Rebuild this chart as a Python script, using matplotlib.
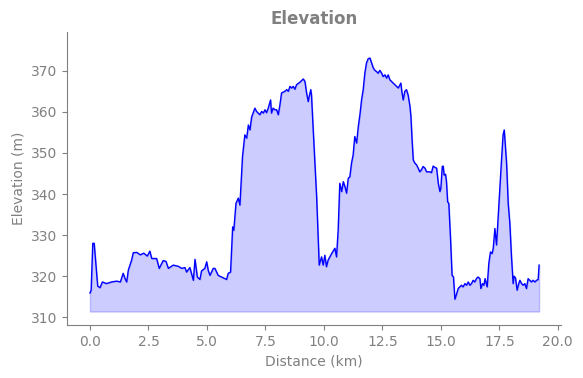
import numpy as np
import matplotlib
matplotlib.use("Agg")
import matplotlib.pyplot as plt

# distance along the track (km) and elevation (m)
distance = [0.00, 0.05, 0.12, 0.18, 0.33, 0.43, 0.53, 0.70, 0.93, 1.14, 1.30, 1.42,
            1.50, 1.57, 1.64, 1.78, 1.85, 2.00, 2.15, 2.30, 2.45, 2.56, 2.64, 2.85,
            2.96, 3.13, 3.25, 3.35, 3.56, 3.78, 3.92, 4.06, 4.13, 4.27, 4.42, 4.49,
            4.59, 4.70, 4.77, 4.91, 4.99, 5.06, 5.13, 5.27, 5.34, 5.48, 5.63, 5.77,
            5.84, 5.91, 6.01, 6.10, 6.15, 6.24, 6.34, 6.41, 6.52, 6.62, 6.70, 6.77,
            6.84, 6.91, 6.98, 7.05, 7.12, 7.19, 7.26, 7.34, 7.41, 7.48, 7.55, 7.62,
            7.72, 7.76, 7.83, 7.91, 7.98, 8.05, 8.12, 8.19, 8.33, 8.41, 8.48, 8.55,
            8.62, 8.69, 8.76, 8.83, 8.97, 9.12, 9.19, 9.26, 9.33, 9.37, 9.44, 9.47,
            9.54, 9.69, 9.80, 9.90, 9.97, 10.04, 10.11, 10.18, 10.33, 10.47, 10.54,
            10.61, 10.68, 10.76, 10.83, 10.90, 10.97, 11.04, 11.11, 11.18, 11.25,
            11.32, 11.40, 11.47, 11.54, 11.61, 11.68, 11.75, 11.82, 11.89, 11.97,
            12.04, 12.11, 12.18, 12.25, 12.32, 12.39, 12.47, 12.53, 12.61, 12.68,
            12.75, 12.82, 12.96, 13.11, 13.18, 13.25, 13.29, 13.33, 13.39, 13.46,
            13.53, 13.60, 13.68, 13.72, 13.77, 13.82, 13.89, 13.96, 14.03, 14.10,
            14.17, 14.24, 14.32, 14.39, 14.53, 14.60, 14.67, 14.74, 14.82, 14.89,
            14.96, 15.00, 15.06, 15.10, 15.14, 15.20, 15.24, 15.29, 15.34, 15.41,
            15.48, 15.54, 15.60, 15.67, 15.74, 15.81, 15.88, 15.95, 16.03, 16.10,
            16.17, 16.24, 16.31, 16.38, 16.45, 16.52, 16.59, 16.67, 16.71, 16.78,
            16.84, 16.89, 16.98, 17.05, 17.12, 17.19, 17.24, 17.31, 17.38, 17.45,
            17.52, 17.59, 17.66, 17.71, 17.75, 17.81, 17.88, 17.95, 18.02, 18.09,
            18.13, 18.19, 18.26, 18.33, 18.38, 18.45, 18.52, 18.59, 18.66, 18.73,
            18.80, 18.87, 18.94, 19.02, 19.09, 19.16, 19.20]
elevation = [315.9, 316.6, 328.0, 328.0, 317.6, 317.2, 318.6, 318.2, 318.6, 318.8,
             318.6, 320.7, 319.4, 318.6, 321.5, 323.9, 325.7, 325.8, 325.2, 325.6,
             324.9, 326.1, 324.3, 324.3, 321.9, 323.8, 323.6, 321.9, 322.7, 322.4,
             321.9, 322.1, 321.0, 322.1, 319.0, 324.1, 319.8, 319.2, 321.3, 321.9,
             323.5, 321.3, 320.2, 321.9, 321.9, 320.2, 319.8, 319.4, 319.2, 320.7,
             321.0, 332.0, 331.2, 337.7, 339.0, 337.3, 349.1, 354.4, 353.6, 356.8,
             355.6, 358.7, 359.8, 360.9, 360.1, 359.7, 359.3, 360.1, 359.7, 360.5,
             359.8, 360.9, 362.9, 359.7, 360.9, 360.5, 360.5, 359.3, 361.7, 364.6,
             365.0, 365.4, 365.0, 366.2, 365.8, 366.2, 365.5, 366.6, 367.2, 368.0,
             367.4, 364.6, 362.5, 363.7, 365.4, 364.1, 356.0, 339.3, 322.7, 324.7,
             322.7, 325.1, 322.3, 323.9, 325.5, 326.8, 324.7, 331.2, 342.6, 340.6,
             343.0, 341.8, 340.2, 343.8, 344.2, 347.5, 349.5, 354.0, 352.4, 356.4,
             359.3, 362.9, 365.4, 369.4, 371.9, 372.9, 373.1, 371.9, 370.7, 370.1,
             369.8, 369.4, 370.1, 369.4, 368.6, 369.0, 368.2, 369.0, 367.8, 367.0,
             366.2, 365.8, 366.6, 367.0, 365.0, 362.9, 365.0, 365.4, 364.1, 361.3,
             358.9, 353.2, 348.3, 347.5, 347.1, 346.3, 345.4, 345.9, 346.7, 346.3,
             345.4, 345.4, 345.2, 346.8, 346.5, 346.3, 342.6, 340.6, 341.4, 346.7,
             346.8, 344.6, 344.8, 343.0, 338.1, 337.7, 329.6, 320.2, 319.8, 314.4,
             315.6, 317.0, 317.4, 317.8, 317.4, 318.2, 317.8, 318.6, 317.8, 318.2,
             319.0, 318.6, 319.4, 319.8, 319.4, 317.0, 318.2, 317.8, 319.4, 317.4,
             323.1, 325.9, 325.5, 326.8, 331.6, 327.6, 334.5, 341.8, 348.0, 354.4,
             355.6, 352.4, 347.5, 337.7, 332.8, 324.7, 318.2, 320.0, 319.6, 316.6,
             318.2, 319.0, 318.2, 317.8, 318.2, 317.0, 319.4, 319.0, 318.6, 319.0,
             318.6, 319.0, 319.2, 322.7]

x = np.array(distance)
y = np.array(elevation)
base = y.min() - 3

plt.figure(figsize=(5.83, 3.78), dpi=100)
ax = plt.gca()
ax.set_position([0.115, 0.14, 0.847, 0.775])
ax.plot(x, y, color="blue", linewidth=1)
ax.fill_between(x, y, base, color="blue", alpha=0.2)

ax.set_xlim(-0.98, 20.13)
ax.set_ylim(308.1, 379.4)
ax.set_xticks(np.arange(0, 20.1, 2.5))
ax.set_yticks(np.arange(310, 371, 10))

ax.set_title("Elevation", color="gray", fontweight="bold", fontsize=12)
ax.set_xlabel("Distance (km)", color="gray")
ax.set_ylabel("Elevation (m)", color="gray")
ax.tick_params(colors="gray")
for s in ["top", "right"]:
    ax.spines[s].set_visible(False)
for s in ["left", "bottom"]:
    ax.spines[s].set_color("gray")

plt.savefig("out.png", dpi=100)
